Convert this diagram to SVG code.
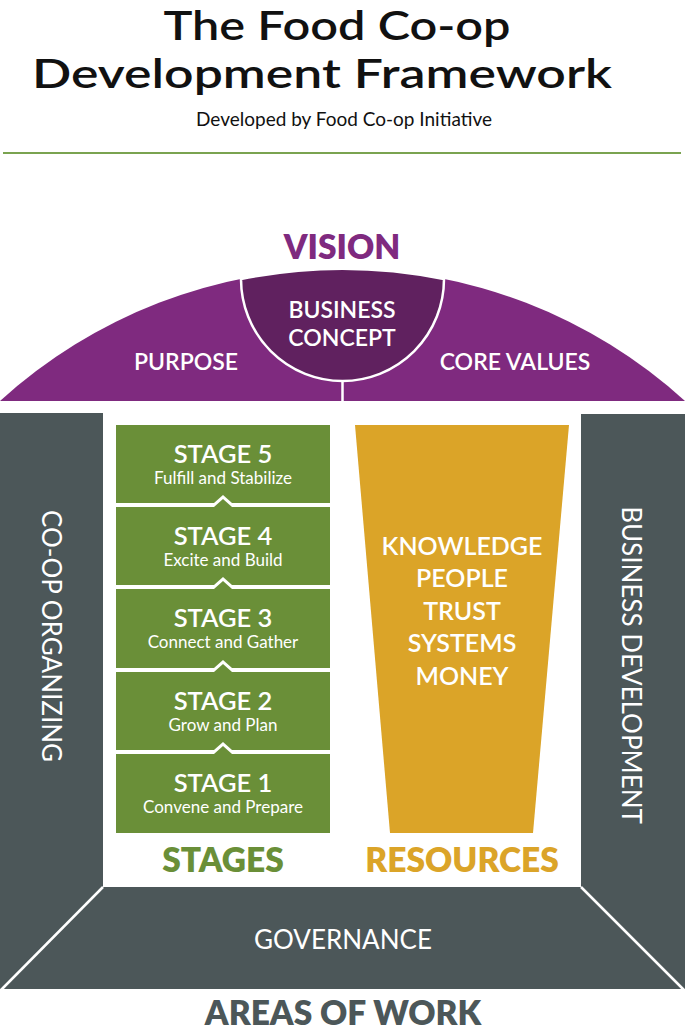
<svg xmlns="http://www.w3.org/2000/svg" width="685" height="1030" viewBox="0 0 685 1030">
<style>
text{font-family:Lato,"Liberation Sans",sans-serif}
.title{font-size:40px;font-weight:600;fill:#111}
.sub{font-size:19px;fill:#111}
.dome{font-size:23px;font-weight:600;fill:#fff}
.st{fill:#6a8f38}
.sth{font-size:25.5px;font-weight:600;fill:#fff}
.sts{font-size:17px;fill:#fff}
.res{font-size:25px;font-weight:600;fill:#fff}
.col{font-size:26px;fill:#fff}
.lbl{font-size:33.5px;font-weight:800}
.gray{fill:#4c5759}
.sep{stroke:#fff;stroke-width:2.5;fill:none}
</style>
<rect width="685" height="1030" fill="#ffffff"/>
<g id="header">
<text class="title" x="337" y="40" text-anchor="middle" textLength="347" lengthAdjust="spacingAndGlyphs">The Food Co-op</text>
<text class="title" x="322" y="88" text-anchor="middle" textLength="580" lengthAdjust="spacingAndGlyphs">Development Framework</text>
<text class="sub" x="344" y="126" text-anchor="middle">Developed by Food Co-op Initiative</text>
<line x1="3" y1="153" x2="681" y2="153" stroke="#7aa350" stroke-width="2"/>
</g>
<g id="vision">
<text class="lbl" x="342" y="259" text-anchor="middle" fill="#7f2a7f" font-size="34.5">VISION</text>
<path d="M0,401 A509,509 0 0 1 685,401 Z" fill="#7f2a7f"/>
<path d="M241,279 A101.5,102 0 0 0 444,279 A509,509 0 0 0 241,279 Z" fill="#60215f" stroke="#fff" stroke-width="2.5"/>
<line class="sep" x1="342.5" y1="381" x2="342.5" y2="401"/>
<text class="dome" x="186" y="370" text-anchor="middle">PURPOSE</text>
<text class="dome" x="515" y="370" text-anchor="middle">CORE VALUES</text>
<text class="dome" x="342" y="318" text-anchor="middle">BUSINESS</text>
<text class="dome" x="342" y="346" text-anchor="middle">CONCEPT</text>
</g>
<g id="areas">
<path class="gray" d="M0,413 H103 V887 H581 V414 H685 V989 H0 Z"/>
<line class="sep" x1="103" y1="887" x2="1" y2="990"/>
<line class="sep" x1="581" y1="887" x2="684" y2="990"/>
<text class="col" transform="translate(42,636) rotate(90)" text-anchor="middle">CO-OP ORGANIZING</text>
<text class="col" transform="translate(622,665) rotate(90)" text-anchor="middle" font-size="25.5">BUSINESS DEVELOPMENT</text>
<text class="col" x="343" y="949" text-anchor="middle" font-size="25.5">GOVERNANCE</text>
<text class="lbl" x="343" y="1025" text-anchor="middle" fill="#4c5759" font-size="31">AREAS OF WORK</text>
</g>
<g id="stage5">
<path class="st" d="M116,425 H330 V503 H232 L223,495 L214,503 H116 Z"/>
<text class="sth" x="223" y="463" text-anchor="middle">STAGE 5</text>
<text class="sts" x="223" y="484" text-anchor="middle">Fulfill and Stabilize</text>
</g>
<g id="stage4">
<path class="st" d="M116,507 H214 L223,499 L232,507 H330 V585 H232 L223,577 L214,585 H116 Z"/>
<text class="sth" x="223" y="545" text-anchor="middle">STAGE 4</text>
<text class="sts" x="223" y="566" text-anchor="middle">Excite and Build</text>
</g>
<g id="stage3">
<path class="st" d="M116,589 H214 L223,581 L232,589 H330 V668 H232 L223,660 L214,668 H116 Z"/>
<text class="sth" x="223" y="627" text-anchor="middle">STAGE 3</text>
<text class="sts" x="223" y="648" text-anchor="middle">Connect and Gather</text>
</g>
<g id="stage2">
<path class="st" d="M116,672 H214 L223,664 L232,672 H330 V750 H232 L223,742 L214,750 H116 Z"/>
<text class="sth" x="223" y="710" text-anchor="middle">STAGE 2</text>
<text class="sts" x="223" y="731" text-anchor="middle">Grow and Plan</text>
</g>
<g id="stage1">
<path class="st" d="M116,754 H214 L223,746 L232,754 H330 V833 H116 Z"/>
<text class="sth" x="223" y="792" text-anchor="middle">STAGE 1</text>
<text class="sts" x="223" y="813" text-anchor="middle">Convene and Prepare</text>
</g>
<g id="resources">
<path d="M355,425 H569 L533,833 H390 Z" fill="#dba428"/>
<text class="res" x="462" y="555" text-anchor="middle">KNOWLEDGE</text>
<text class="res" x="462" y="587" text-anchor="middle">PEOPLE</text>
<text class="res" x="462" y="620" text-anchor="middle">TRUST</text>
<text class="res" x="462" y="652" text-anchor="middle">SYSTEMS</text>
<text class="res" x="462" y="685" text-anchor="middle">MONEY</text>
</g>
<g id="labels">
<text class="lbl" x="223" y="872" text-anchor="middle" fill="#6a8f38">STAGES</text>
<text class="lbl" x="462" y="872" text-anchor="middle" fill="#dba428">RESOURCES</text>
</g>
</svg>
